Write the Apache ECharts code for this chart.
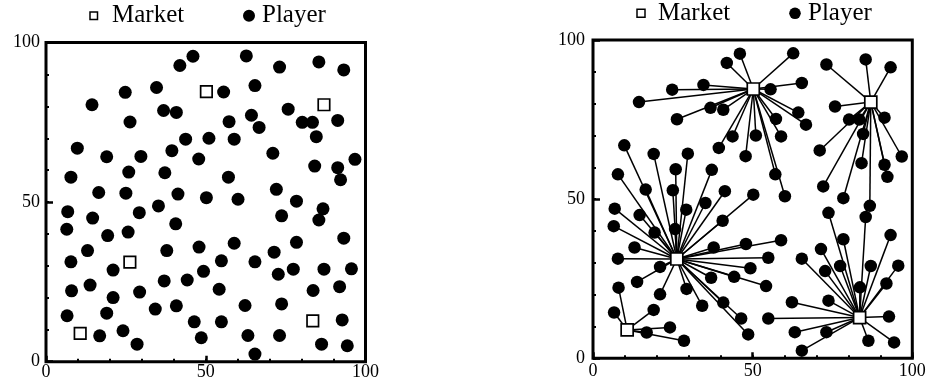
<!DOCTYPE html>
<html>
<head>
<meta charset="utf-8">
<script src="https://cdn.jsdelivr.net/npm/echarts@6/dist/echarts.min.js"></script>
<style>
html,body{margin:0;padding:0;background:#fff;}
#chart{width:930px;height:383px;}
</style>
</head>
<body>
<div id="chart"></div>
<script>
// ---- data ----
var marketX = [10.7, 26.25, 50.2, 87.0, 83.5];
var marketY = [8.9, 31.2, 84.6, 80.5, 12.8];

var playerX = [46.0,41.9,34.6,24.8,14.4,36.8,40.8,26.3,43.7,9.8,
  39.4,19.0,29.7,47.8,7.8,25.9,37.2,16.5,25.0,41.3,
  62.7,73.1,85.4,93.2,55.6,65.4,64.3,75.8,57.3,66.7,
  80.2,83.4,91.3,84.6,51.0,58.9,71.0,96.7,84.1,91.3,
  92.2,57.1,72.1,50.2,60.1,78.4,6.8,14.6,29.2,35.2,
  6.5,19.3,25.7,40.6,13.0,7.8,37.8,21.0,47.9,8.0,
  13.8,21.0,29.3,37.0,44.2,49.3,6.6,19.0,34.2,40.8,
  46.4,16.8,24.1,28.5,48.6,86.7,85.4,73.75,93.2,58.9,
  78.4,71.4,54.9,65.4,72.7,77.4,87.0,95.6,54.2,83.6,
  91.9,62.3,73.75,54.9,92.7,63.2,73.1,86.25,94.3,65.4];
var playerY = [95.7,92.8,85.9,84.4,80.5,78.7,78.1,75.1,69.7,66.9,
  66.1,64.2,64.3,63.5,57.8,59.4,59.2,53.0,52.8,52.5,
  95.8,92.3,93.9,91.4,84.5,86.5,77.2,79.1,75.2,73.4,
  75.0,75.0,75.6,70.5,70.0,69.7,65.3,63.4,61.3,60.8,
  57.0,57.8,54.0,51.4,50.9,50.3,47.0,45.0,46.7,48.8,
  41.5,39.5,40.6,43.2,34.8,31.3,34.8,28.7,35.9,22.2,
  24.0,20.1,21.8,25.3,25.6,28.3,14.4,15.2,16.5,17.5,
  12.5,8.1,9.7,5.5,7.5,47.9,44.4,45.7,38.7,37.1,
  37.4,34.3,31.6,31.3,27.4,29.0,29.0,29.1,22.7,22.3,
  23.5,17.6,18.1,12.5,13.1,8.2,8.2,5.5,5.0,2.4];
// index into market arrays that each player is linked to (right panel)
var playerMarket = [2,2,2,2,2,2,2,2,2,1,
  2,1,1,2,1,1,1,1,1,1,
  2,3,3,3,2,2,2,3,2,2,
  3,3,3,3,2,2,3,3,3,3,
  3,2,3,1,2,3,1,1,1,1,
  1,1,1,1,1,1,1,1,1,0,
  1,1,1,1,1,1,0,0,1,1,
  1,0,0,0,1,3,4,4,4,1,
  4,4,1,4,4,4,4,4,1,4,
  4,4,4,4,4,4,4,4,4,4];
var tickLabels = [0, 50, 100];
var legendNames = ['Market', 'Player'];

// ---- build ----
var FONT = 'Liberation Serif';
var players = playerX.map(function (x, i) { return [x, playerY[i]]; });
var markets = marketX.map(function (x, i) { return [x, marketY[i]]; });
var links = players.map(function (p, i) {
  var m = playerMarket[i];
  return { coords: [p, [marketX[m], marketY[m]]] };
});

function bottomX(gi, margin) {
  return {
    gridIndex: gi, type: 'value', min: 0, max: 100, interval: 50, position: 'bottom',
    axisLine: { show: false },
    axisTick: { show: true, inside: true, length: 6, lineStyle: { color: '#000', width: 2.5 } },
    axisLabel: { show: true, margin: margin, color: '#000', fontSize: 18, fontFamily: FONT,
      formatter: function (v) { return tickLabels.indexOf(v) >= 0 ? String(v) : ''; } },
    splitLine: { show: false }
  };
}
function topX(gi) {
  return {
    gridIndex: gi, type: 'value', min: 0, max: 100, interval: 10, position: 'top',
    axisLine: { show: false },
    axisTick: { show: true, inside: false, length: 3, lineStyle: { color: '#000', width: 2 } },
    axisLabel: { show: false }, splitLine: { show: false }
  };
}
function leftY(gi, margin) {
  return {
    gridIndex: gi, type: 'value', min: 0, max: 100, interval: 50, position: 'left',
    axisLine: { show: false },
    axisTick: { show: true, inside: true, length: 7, lineStyle: { color: '#000', width: 2.5 } },
    axisLabel: { show: true, margin: margin, color: '#000', fontSize: 18, fontFamily: FONT,
      formatter: function (v) { return tickLabels.indexOf(v) >= 0 ? String(v) : ''; } },
    splitLine: { show: false }
  };
}
function rightY(gi) {
  return {
    gridIndex: gi, type: 'value', min: 0, max: 100, interval: 10, position: 'right',
    axisLine: { show: false },
    axisTick: { show: true, inside: false, length: 3, lineStyle: { color: '#000', width: 2 } },
    axisLabel: { show: false }, splitLine: { show: false }
  };
}

function legendGraphics(sqX, sqY, sqS, txt1X, circX, circY, r, txt2X, ty) {
  return [
    { type: 'rect', shape: { x: sqX, y: sqY, width: sqS, height: sqS },
      style: { fill: '#fff', stroke: '#000', lineWidth: 1.5 }, z: 100 },
    { type: 'text', x: txt1X, y: ty,
      style: { text: legendNames[0], fill: '#000', fontSize: 25, fontFamily: FONT, align: 'left', verticalAlign: 'middle' }, z: 100 },
    { type: 'circle', shape: { cx: circX, cy: circY, r: r }, style: { fill: '#000' }, z: 100 },
    { type: 'text', x: txt2X, y: ty,
      style: { text: legendNames[1], fill: '#000', fontSize: 25, fontFamily: FONT, align: 'left', verticalAlign: 'middle' }, z: 100 }
  ];
}

var playerStyle = { color: '#000', opacity: 1 };
var marketStyle = { color: '#fff', borderColor: '#000', borderWidth: 1.7, opacity: 1 };

var option = {
  animation: false,
  backgroundColor: '#fff',
  textStyle: { fontFamily: FONT },
  grid: [
    { left: 46, top: 42.5, width: 319.5, height: 319.2, show: true, borderWidth: 3, borderColor: '#000', backgroundColor: 'transparent' },
    { left: 593, top: 40, width: 319.3, height: 318.3, show: true, borderWidth: 3, borderColor: '#000', backgroundColor: 'transparent' }
  ],
  xAxis: [bottomX(0, 2), topX(0), bottomX(1, 4), topX(1)],
  yAxis: [leftY(0, 6), rightY(0), leftY(1, 8), rightY(1)],
  graphic: legendGraphics(90, 12, 7.5, 112, 249, 15.7, 6, 262, 15.5)
    .concat(legendGraphics(637, 9.3, 8, 658, 795, 13.3, 5.8, 808, 13)),
  series: [
    { name: 'Player', type: 'scatter', xAxisIndex: 0, yAxisIndex: 0, data: players,
      symbol: 'circle', symbolSize: 13, itemStyle: playerStyle, z: 3 },
    { name: 'Market', type: 'scatter', xAxisIndex: 0, yAxisIndex: 0, data: markets,
      symbol: 'rect', symbolSize: 11.5, itemStyle: marketStyle, z: 4 },
    { name: 'Link', type: 'lines', coordinateSystem: 'cartesian2d', xAxisIndex: 2, yAxisIndex: 2,
      data: links, lineStyle: { color: '#000', width: 1.5, opacity: 1, curveness: 0 }, z: 2 },
    { name: 'Player', type: 'scatter', xAxisIndex: 2, yAxisIndex: 2, data: players,
      symbol: 'circle', symbolSize: 12.5, itemStyle: playerStyle, z: 3 },
    { name: 'Market', type: 'scatter', xAxisIndex: 2, yAxisIndex: 2, data: markets,
      symbol: 'rect', symbolSize: 12, itemStyle: marketStyle, z: 4 }
  ]
};

var chart = echarts.init(document.getElementById('chart'));
chart.setOption(option);
</script>
</body>
</html>
